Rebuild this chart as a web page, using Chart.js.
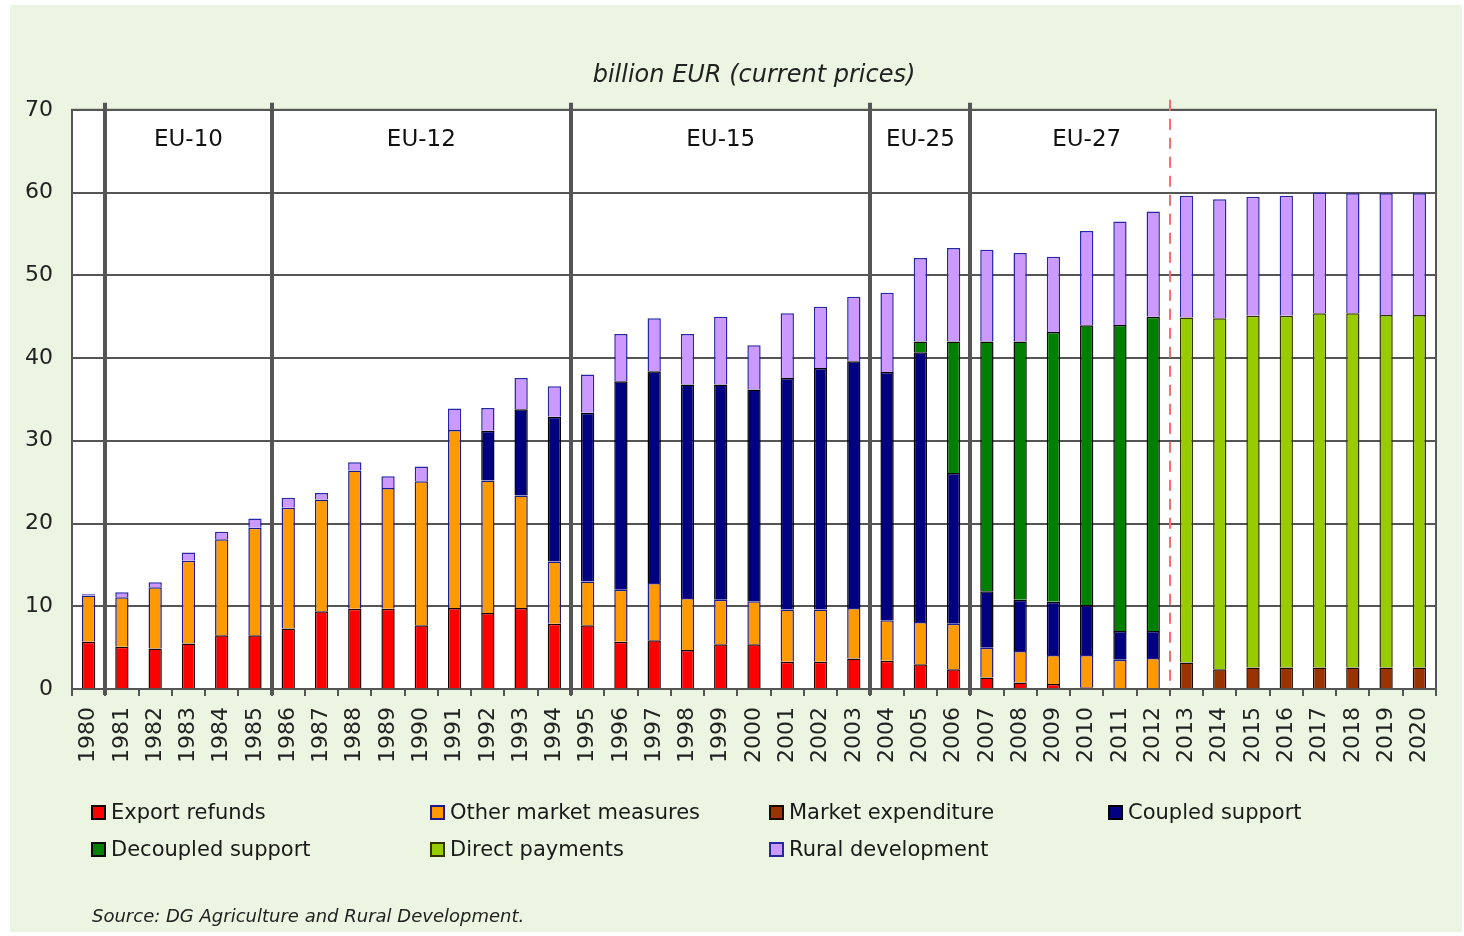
<!DOCTYPE html>
<html>
<head>
<meta charset="utf-8">
<script src="https://cdn.jsdelivr.net/npm/chart.js@4/dist/chart.umd.min.js"></script>
<style>
  body { margin: 0; background: #fff; font-family: "DejaVu Sans", sans-serif; }
  #panel { position: absolute; left: 10px; top: 5px; width: 1452px; height: 927px; background: #ebf5e1; }
  #chartBox { position: absolute; left: 0; top: 0; width: 1464px; height: 936px; }
  #legend { position: absolute; left: 91px; top: 798px; display: grid; grid-template-columns: 339px 339px 339px 339px; row-gap: 9px; font-size: 21px; color: #1a1a1a; }
  .item { display: flex; align-items: center; height: 28px; white-space: nowrap; }
  .box { width: 11px; height: 11px; border: 2px solid #222; margin-right: 5px; }
  #source { position: absolute; left: 92px; top: 905px; font-style: italic; font-size: 18px; color: #222; }
</style>
</head>
<body>
<div id="panel"></div>
<div id="chartBox"><canvas id="myChart" width="1464" height="936"></canvas></div>
<div id="legend"></div>
<div id="source">Source: DG Agriculture and Rural Development.</div>
<script>
const years = ["1980", "1981", "1982", "1983", "1984", "1985", "1986", "1987", "1988", "1989",
  "1990", "1991", "1992", "1993", "1994", "1995", "1996", "1997", "1998", "1999",
  "2000", "2001", "2002", "2003", "2004", "2005", "2006", "2007", "2008", "2009",
  "2010", "2011", "2012", "2013", "2014", "2015", "2016", "2017", "2018", "2019", "2020"];

// billion EUR per year, one array per component (null = not present)
const exportRefunds = [5.7, 5.1, 4.9, 5.5, 6.5, 6.5, 7.3, 9.4, 9.7, 9.7,
  7.7, 9.8, 9.2, 9.8, 7.9, 7.7, 5.7, 5.9, 4.7, 5.4,
  5.4, 3.3, 3.3, 3.7, 3.4, 3.0, 2.4, 1.4, 0.8, 0.6,
  0.2, null, null, null, null, null, null, null, null, null, null];
const otherMarket = [5.6, 6.0, 7.4, 10.0, 11.6, 13.0, 14.6, 13.5, 16.7, 14.6,
  17.4, 21.5, 16.0, 13.6, 7.5, 5.3, 6.3, 6.9, 6.3, 5.4,
  5.2, 6.3, 6.3, 6.1, 4.9, 5.1, 5.5, 3.6, 3.8, 3.5,
  3.9, 3.55, 3.75, null, null, null, null, null, null, null, null];
const marketExpenditure = [null, null, null, null, null, null, null, null, null, null,
  null, null, null, null, null, null, null, null, null, null,
  null, null, null, null, null, null, null, null, null, null,
  null, null, null, 3.2, 2.4, 2.6, 2.6, 2.6, 2.6, 2.6, 2.6];
const coupledSupport = [null, null, null, null, null, null, null, null, null, null,
  null, null, 6.0, 10.4, 17.5, 20.4, 25.2, 25.6, 25.8, 26.0,
  25.6, 28.0, 29.2, 29.8, 30.0, 32.6, 18.2, 6.8, 6.2, 6.45,
  6.05, 3.45, 3.25, null, null, null, null, null, null, null, null];
const decoupledSupport = [null, null, null, null, null, null, null, null, null, null,
  null, null, null, null, null, null, null, null, null, null,
  null, null, null, null, null, 1.3, 15.9, 30.2, 31.2, 32.6,
  33.8, 37.0, 38.0, null, null, null, null, null, null, null, null];
const directPayments = [null, null, null, null, null, null, null, null, null, null,
  null, null, null, null, null, null, null, null, null, null,
  null, null, null, null, null, null, null, null, null, null,
  null, null, null, 41.7, 42.4, 42.5, 42.5, 42.8, 42.8, 42.6, 42.6];
const ruralDevelopment = [0.15, 0.6, 0.6, 1.0, 0.9, 1.1, 1.2, 0.8, 1.0, 1.4,
  1.8, 2.6, 2.75, 3.8, 3.7, 4.6, 5.7, 6.4, 6.1, 8.2,
  5.35, 7.8, 7.4, 7.8, 9.6, 10.1, 11.3, 11.1, 10.7, 9.1,
  11.4, 12.5, 12.7, 14.7, 14.4, 14.4, 14.5, 14.6, 14.5, 14.7, 14.7];

const enlargements = ["EU-10", "EU-12", "EU-15", "EU-25", "EU-27"];
const enlargementStart = ["1981", "1986", "1995", "2004", "2007"];
const enlargementEnd = ["1985", "1994", "2003", "2006", "2013"];
const forecastStart = "2013";

Chart.defaults.font.family = "'DejaVu Sans', sans-serif";
Chart.defaults.color = "#222";

function makeSet(label, data, color, border) {
  return {
    label: label,
    data: data,
    backgroundColor: color,
    borderColor: border,
    borderWidth: 1.5,
    barPercentage: 0.4,
    categoryPercentage: 1.0
  };
}

const datasets = [
  makeSet("Export refunds", exportRefunds, "#ff0000", "#1a0000"),
  makeSet("Other market measures", otherMarket, "#ff9900", "#1c1c8c"),
  makeSet("Market expenditure", marketExpenditure, "#993300", "#1a0a00"),
  makeSet("Coupled support", coupledSupport, "#000080", "#000000"),
  makeSet("Decoupled support", decoupledSupport, "#008000", "#0a0a0a"),
  makeSet("Direct payments", directPayments, "#99cc00", "#333300"),
  makeSet("Rural development", ruralDevelopment, "#cc99ff", "#2626a6")
];

// white plot background + frame, enlargement separators and labels
const decorPlugin = {
  id: "decor",
  beforeDraw(chart) {
    const a = chart.chartArea;
    const ctx = chart.ctx;
    ctx.save();
    ctx.fillStyle = "#ffffff";
    ctx.fillRect(a.left, a.top, a.right - a.left, a.bottom - a.top);
    ctx.restore();
  },
  afterDatasetsDraw(chart) {
    const a = chart.chartArea;
    const ctx = chart.ctx;
    const x = chart.scales.x;
    const y = chart.scales.y;
    const half = (x.getPixelForValue(1) - x.getPixelForValue(0)) / 2;
    ctx.save();
    ctx.strokeStyle = "#555";
    ctx.lineWidth = 2;
    ctx.strokeRect(a.left, a.top, a.right - a.left, a.bottom - a.top);

    ctx.lineWidth = 4;
    ctx.strokeStyle = "#555";
    enlargementStart.forEach(function (yr) {
      const px = Math.round(x.getPixelForValue(years.indexOf(yr)) - half);
      ctx.beginPath();
      ctx.moveTo(px, a.top - 7);
      ctx.lineTo(px, a.bottom + 6);
      ctx.stroke();
    });

    ctx.fillStyle = "#111";
    ctx.font = "23px 'DejaVu Sans', sans-serif";
    ctx.textAlign = "center";
    ctx.textBaseline = "middle";
    enlargements.forEach(function (name, i) {
      const c = (years.indexOf(enlargementStart[i]) + years.indexOf(enlargementEnd[i])) / 2;
      ctx.fillText(name, x.getPixelForValue(c), y.getPixelForValue(66.4));
    });

    const fx = Math.round(x.getPixelForValue(years.indexOf(forecastStart)) - half);
    ctx.strokeStyle = "#ff6b6b";
    ctx.lineWidth = 2;
    ctx.setLineDash([11, 8]);
    ctx.beginPath();
    ctx.moveTo(fx, a.top - 10);
    ctx.lineTo(fx, a.bottom);
    ctx.stroke();
    ctx.restore();
  }
};

const config = {
  type: "bar",
  data: { labels: years, datasets: datasets },
  options: {
    responsive: false,
    animation: false,
    layout: { padding: { left: 0, right: 28, top: 0, bottom: 0 } },
    plugins: {
      legend: { display: false },
      tooltip: { enabled: false },
      title: {
        display: true,
        fullSize: false,
        text: "billion EUR (current prices)",
        font: { size: 24, style: "italic", weight: "normal" },
        color: "#222",
        padding: { top: 61, bottom: 20 }
      }
    },
    scales: {
      x: {
        stacked: true,
        grid: { offset: true, drawOnChartArea: false, drawTicks: true, tickLength: 7, color: "#555", lineWidth: 2 },
        border: { color: "#555", width: 2 },
        ticks: { minRotation: 90, maxRotation: 90, autoSkip: false, font: { size: 22 }, color: "#222", padding: 11 },
        afterFit: function (s) { s.height = 936 - 689; }
      },
      y: {
        stacked: true,
        min: 0,
        max: 70,
        ticks: { stepSize: 10, font: { size: 22 }, color: "#222", padding: 19 },
        grid: { color: "#555", lineWidth: 2, drawTicks: false },
        border: { color: "#555", width: 2 },
        afterFit: function (s) { s.width = 72; }
      }
    }
  },
  plugins: [decorPlugin]
};

const myChart = new Chart(document.getElementById("myChart"), config);

const legendDiv = document.getElementById("legend");
datasets.forEach(function (ds) {
  const item = document.createElement("div");
  item.className = "item";
  const box = document.createElement("span");
  box.className = "box";
  box.style.background = ds.backgroundColor;
  box.style.borderColor = ds.borderColor;
  const txt = document.createElement("span");
  txt.textContent = ds.label;
  item.appendChild(box);
  item.appendChild(txt);
  legendDiv.appendChild(item);
});
</script>
</body>
</html>
